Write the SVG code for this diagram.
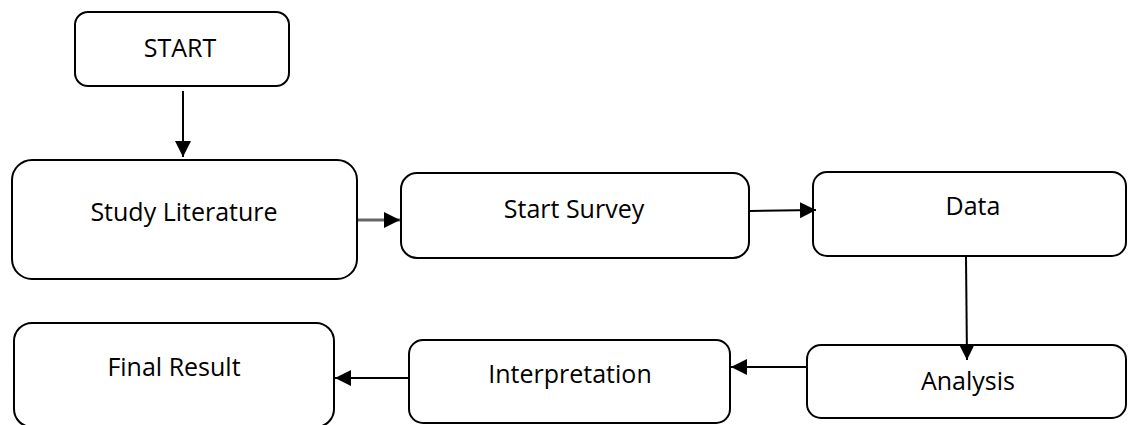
<svg xmlns="http://www.w3.org/2000/svg" width="1128" height="425" viewBox="0 0 1128 425">
<style>
.box{fill:#fff;stroke:#000;stroke-width:2}
.lbl{font-family:"Open Sans","Liberation Sans",sans-serif;font-size:25px;fill:#000;text-anchor:middle}
.con{stroke:#000;stroke-width:2;fill:none}
</style>
<defs>
<marker id="ah" viewBox="0 0 10 10" refX="10" refY="5" markerWidth="16" markerHeight="17" markerUnits="userSpaceOnUse" orient="auto">
<path d="M0,0 L10,5 L0,10 Z" fill="#000"/>
</marker>
</defs>
<rect width="1128" height="425" fill="#fff"/>
<g id="start"><rect class="box" x="75" y="12" width="214" height="74" rx="13"/><text class="lbl" x="180" y="57">START</text></g>
<g id="study"><rect class="box" x="12" y="160" width="345" height="119" rx="20"/><text class="lbl" x="184" y="221">Study Literature</text></g>
<g id="survey"><rect class="box" x="401" y="173" width="348" height="85" rx="16"/><text class="lbl" x="574" y="218">Start Survey</text></g>
<g id="data"><rect class="box" x="813" y="172" width="313" height="84" rx="14"/><text class="lbl" x="973" y="215">Data</text></g>
<g id="analysis"><rect class="box" x="807" y="345" width="319" height="73" rx="14"/><text class="lbl" x="968" y="390">Analysis</text></g>
<g id="interp"><rect class="box" x="409" y="340" width="321" height="83" rx="14"/><text class="lbl" x="570" y="383">Interpretation</text></g>
<g id="final"><rect class="box" x="14" y="323" width="320" height="104" rx="18"/><text class="lbl" x="174" y="376">Final Result</text></g>
<g id="connectors">
<line class="con" x1="183" y1="91" x2="183" y2="157" marker-end="url(#ah)"/>
<line x1="358" y1="220" x2="400" y2="220" stroke="#666" stroke-width="3" marker-end="url(#ah)"/>
<line class="con" x1="750" y1="211" x2="816" y2="210" marker-end="url(#ah)"/>
<line class="con" x1="966" y1="257" x2="967" y2="360" marker-end="url(#ah)"/>
<line class="con" x1="807" y1="367" x2="731" y2="367" marker-end="url(#ah)"/>
<line class="con" x1="409" y1="378" x2="335" y2="378" marker-end="url(#ah)"/>
</g>
</svg>
